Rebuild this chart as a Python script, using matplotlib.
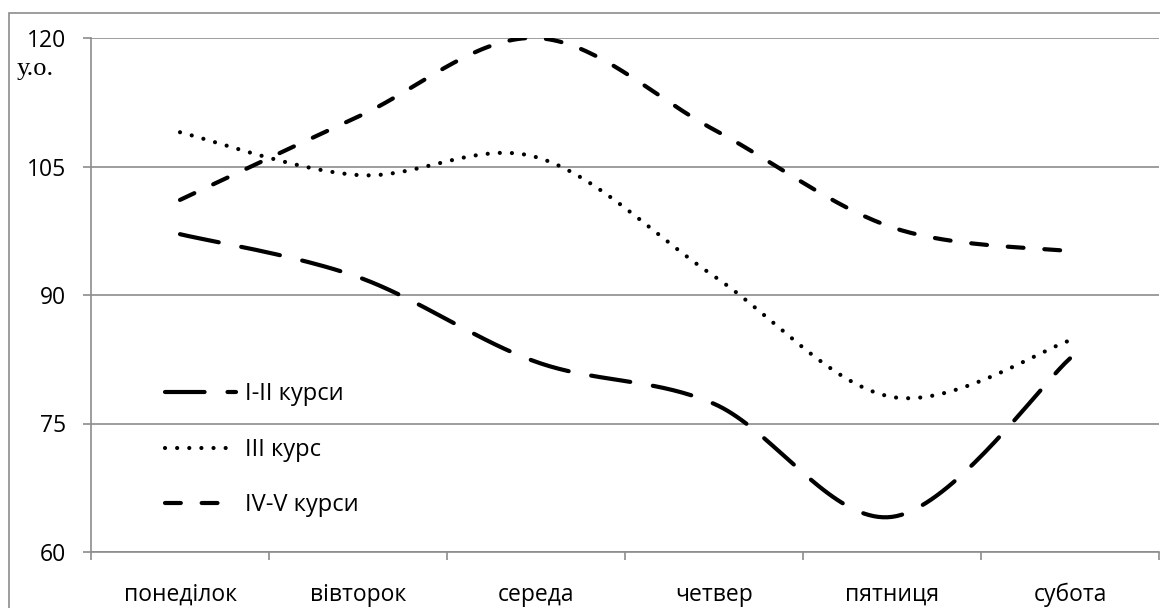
"""Weekly values by course group: smoothed lines, Excel-like styling."""

import numpy as np
import matplotlib
matplotlib.use('Agg')
import matplotlib.pyplot as plt
from matplotlib.patches import Rectangle

days = ['понеділок', 'вівторок', 'середа', 'четвер', 'пятниця', 'субота']
series_names = ['I-II курси', 'III курс', 'IV-V курси']
values_1_2 = [97.1, 92.1, 82.2, 77.3, 64.1, 82.6]
values_3 = [109.0, 104.0, 106.1, 92.2, 78.1, 84.7]
values_4_5 = [101.1, 110.8, 120.0, 109.3, 97.9, 95.1]
y_ticks = [60, 75, 90, 105, 120]
y_unit = 'у.о.'

GRID = '#8c8c8c'


def smooth(x, y, n=40):
    """Catmull-Rom style smoothing (close to Excel's smoothed line)."""
    p = np.column_stack([x, y]).astype(float)
    ext = np.vstack([p[0], p, p[-1]])
    out = []
    t = np.linspace(0, 1, n)[:, None]
    for i in range(len(p) - 1):
        p0, p1, p2, p3 = ext[i], ext[i + 1], ext[i + 2], ext[i + 3]
        c1 = p1 + (p2 - p0) / 6
        c2 = p2 - (p3 - p1) / 6
        seg = ((1 - t) ** 3 * p1 + 3 * (1 - t) ** 2 * t * c1
               + 3 * (1 - t) * t ** 2 * c2 + t ** 3 * p2)
        out.append(seg if i == 0 else seg[1:])
    out = np.vstack(out)
    return out[:, 0], out[:, 1]


plt.rcParams['font.family'] = ['Open Sans', 'DejaVu Sans']

fig = plt.figure(figsize=(11.6, 6.08), dpi=100)
ax = fig.add_axes([91 / 1160, 1 - 552 / 608, 1068 / 1160, 514 / 608])

# outer frame of the embedded chart
fig.patches.append(Rectangle((9 / 1160, -0.1), 1.1, 1.1 - 13 / 608,
                             transform=fig.transFigure, fill=False,
                             edgecolor=GRID, linewidth=1.2, zorder=0))

x = np.arange(len(days))
styles = [
    dict(dashes=(9.5, 5.5)),
    dict(dashes=(0.01, 2.9)),
    dict(dashes=(3.8, 5.0)),
]
for vals, name, st in zip([values_1_2, values_3, values_4_5], series_names, styles):
    xs, ys = smooth(x, vals)
    ax.plot(xs, ys, color='black', linewidth=3.0, dash_capstyle='round',
            label=name, **st)

ax.set_xlim(-0.5, len(days) - 0.5)
ax.set_ylim(60, 120)
ax.set_yticks(y_ticks)
ax.yaxis.grid(True, color=GRID, linewidth=1.2)
ax.set_axisbelow(True)

ax.set_xticks(np.arange(len(days) + 1) - 0.5)
ax.set_xticklabels([])
ax.set_xticks(x, minor=True)
ax.set_xticklabels(days, minor=True, fontsize=16.5)
ax.tick_params(axis='x', which='major', length=6, width=1.2, color=GRID,
               direction='out')
ax.tick_params(axis='x', which='minor', length=0, pad=22)
ax.tick_params(axis='y', length=6, width=1.2, color=GRID, labelsize=16.5, pad=12)

for side in ['top', 'right']:
    ax.spines[side].set_visible(False)
for side in ['left', 'bottom']:
    ax.spines[side].set_color(GRID)
    ax.spines[side].set_linewidth(1.2)

fig.text(17 / 1160, 1 - 75 / 608, y_unit, fontsize=19,
         family='Liberation Serif', ha='left', va='baseline')

ax.legend(loc='upper left', bbox_to_anchor=(0.069, 0.33), frameon=False,
          fontsize=17, handlelength=3.0, handletextpad=0.42, labelspacing=1.33,
          borderaxespad=0, borderpad=0)

fig.savefig('out.png', dpi=100)
